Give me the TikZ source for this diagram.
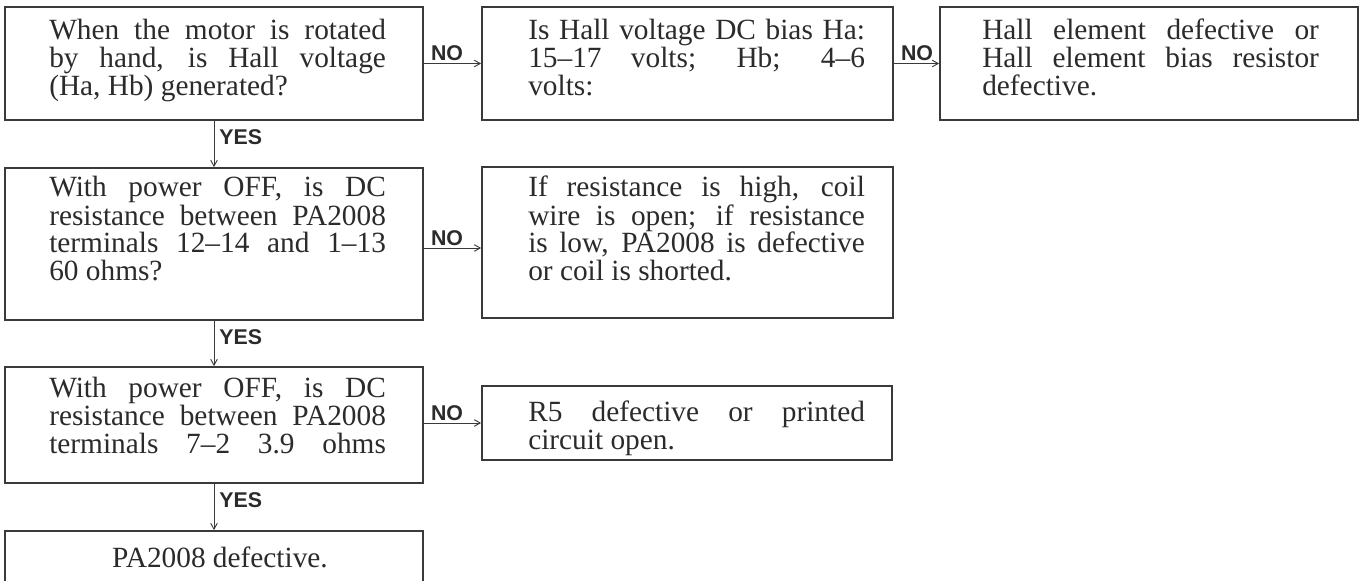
\documentclass[tikz,border=0pt]{standalone}
\usepackage{fontspec}
\setmainfont{Liberation Serif}
\newfontfamily\lblfont{Liberation Sans}
\usetikzlibrary{arrows.meta,fit}
\newlength\tw
\setlength\tw{252.5pt}
\newcommand\jline[1]{\hbox to \tw{#1}}
\newcommand\lline[1]{\hbox to \tw{#1\hfil}}
\definecolor{ink}{HTML}{2B2B2B}
\definecolor{lineclr}{HTML}{3A3A3A}
\begin{document}
\begin{tikzpicture}[x=0.75pt,y=-0.75pt,
  box/.style={draw=lineclr, line width=1.3pt, inner sep=0pt},
  txt/.style={inner sep=0pt, anchor=base west, text=ink, font=\fontsize{22pt}{21pt}\selectfont},
  arr/.style={draw=lineclr, line width=0.7pt, -{Straight Barb[length=4.5pt,width=5pt]}},
  lbl/.style={inner sep=0pt, text=ink, font=\lblfont\bfseries\fontsize{16pt}{18pt}\selectfont},
  nolbl/.style={lbl, anchor=south west, xshift=5pt, yshift=1.5pt},
  yeslbl/.style={lbl, anchor=north west, xshift=3.75pt, yshift=-6pt}]
\useasboundingbox (0,0) rectangle (1364,581);
\fill[white] (0,0) rectangle (1364,581);
\clip (0,0) rectangle (1364,581);

% boxes
\node[box, fit={(5,7) (423,120)}] (a1) {};
\node[box, fit={(482,7) (893,120)}] (a2) {};
\node[box, fit={(940,7) (1358,120)}] (a3) {};
\node[box, fit={(5,168) (423,320)}] (b1) {};
\node[box, fit={(482,167) (893,318)}] (b2) {};
\node[box, fit={(5,367) (423,483)}] (c1) {};
\node[box, fit={(482,386) (892,460)}] (c2) {};
\node[box, fit={(5,531) (423,640)}] (d1) {};

% texts (anchored at the baseline of the first line)
\node[txt] (ta1) at (49,40) {\vtop{%
  \jline{When the motor is rotated}%
  \jline{by hand, is Hall voltage}%
  \lline{(Ha, Hb) generated?}}};
\node[txt] (ta2) at (528,40) {\vtop{%
  \jline{Is Hall voltage DC bias Ha:}%
  \jline{15--17 volts; Hb; 4--6}%
  \lline{volts:}}};
\node[txt] (ta3) at (982,40) {\vtop{%
  \jline{Hall element defective or}%
  \jline{Hall element bias resistor}%
  \lline{defective.}}};
\node[txt] (tb1) at (49,197) {\vtop{%
  \jline{With power OFF, is DC}%
  \jline{resistance between PA2008}%
  \jline{terminals 12--14 and 1--13}%
  \lline{60 ohms?}}};
\node[txt] (tb2) at (528,197) {\vtop{%
  \jline{If resistance is high, coil}%
  \jline{wire is open; if resistance}%
  \jline{is low, PA2008 is defective}%
  \lline{or coil is shorted.}}};
\node[txt] (tc1) at (49,397) {\vtop{%
  \jline{With power OFF, is DC}%
  \jline{resistance between PA2008}%
  \jline{terminals 7--2 3.9 ohms}}};
\node[txt] (tc2) at (528,421) {\vtop{%
  \jline{R5 defective or printed}%
  \lline{circuit open.}}};
\node[txt, anchor=base] (td1) at (220,567) {PA2008 defective.};

% connectors
\draw[arr] (a1.east) -- node[nolbl, pos=0] {NO} (a2.west);
\draw[arr] (a2.east) -- node[nolbl, pos=0] {NO} (a3.west);
\draw[arr] (a1.south) -- node[yeslbl, pos=0] {YES} (b1.north);
\draw[arr] ([yshift=-3pt]b1.east) -- node[nolbl, pos=0] {NO} ([yshift=-3pt]b1.east -| b2.west);
\draw[arr] (b1.south) -- node[yeslbl, pos=0] {YES} (c1.north);
\draw[arr] (c2.west -| c1.east) -- node[nolbl, pos=0] {NO} (c2.west);
\draw[arr] (c1.south) -- node[yeslbl, pos=0] {YES} (d1.north);
\end{tikzpicture}
\end{document}
